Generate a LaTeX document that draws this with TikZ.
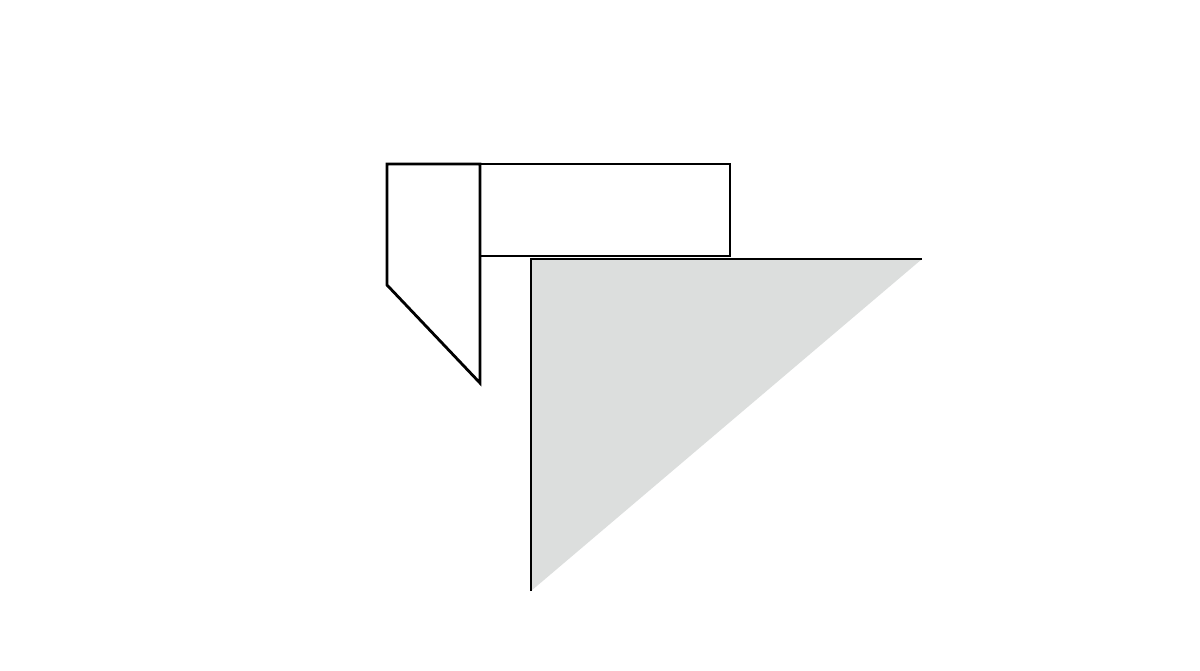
\documentclass[tikz,border=0pt]{standalone}
\usepackage{xcolor}
\usepackage{tikz}
\definecolor{wedgegray}{HTML}{DCDEDD}

\begin{document}
\begin{tikzpicture}[x=0.02cm, y=-0.02cm]
        \tikzstyle{edge} = [draw=black, line width=1.6pt, line join=miter]
        \useasboundingbox (0,0) rectangle (1200,670);
        % flap on the left
        \coordinate (fa) at (387,164);
        \coordinate (fb) at (480,164);
        \coordinate (fc) at (480,383);
        \coordinate (fd) at (387,285);
        % box on top
        \coordinate (ba) at (480,164);
        \coordinate (bb) at (730,256);
        % grey wedge
        \coordinate (wa) at (531,259);
        \coordinate (wb) at (922,259);
        \coordinate (wc) at (531,591);
        \fill[wedgegray] (wa) -- (wb) -- (wc) -- cycle;
        \draw[edge] (wc) -- (wa) -- (wb);
        \draw[edge] (fa) -- (fb) -- (fc) -- (fd) -- cycle;
        \draw[edge] (ba) rectangle (bb);
    \end{tikzpicture}
\end{document}
